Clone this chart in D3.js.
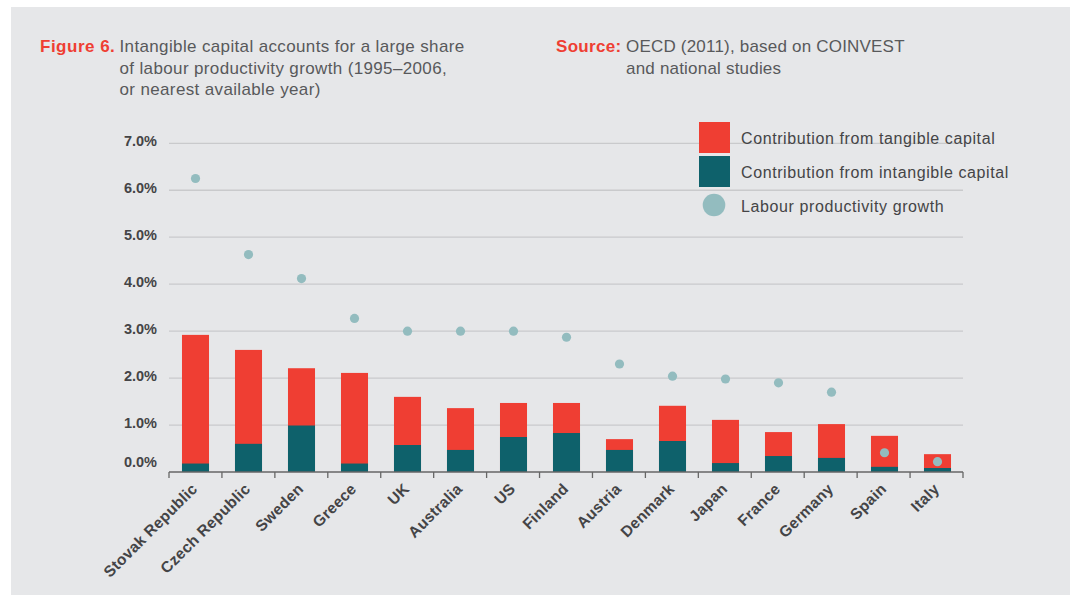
<!DOCTYPE html>
<html>
<head>
<meta charset="utf-8">
<script src="https://cdn.jsdelivr.net/npm/d3@7/dist/d3.min.js"></script>
<style>
  html, body { margin: 0; padding: 0; background: #ffffff; }
  svg { display: block; }
  text { font-family: "Liberation Sans", Arial, Helvetica, sans-serif; }
</style>
</head>
<body>
<svg id="chart" width="1074" height="595"></svg>
<script>
const countries = ["Stovak Republic", "Czech Republic", "Sweden", "Greece", "UK", "Australia", "US", "Finland", "Austria", "Denmark", "Japan", "France", "Germany", "Spain", "Italy"];
const intangible = [0.18, 0.60, 0.99, 0.18, 0.575, 0.47, 0.745, 0.83, 0.47, 0.66, 0.19, 0.34, 0.30, 0.11, 0.085];
const tangible = [2.74, 2.00, 1.22, 1.93, 1.025, 0.89, 0.725, 0.64, 0.23, 0.75, 0.92, 0.51, 0.72, 0.66, 0.295];
const productivity = [6.25, 4.63, 4.12, 3.27, 3.00, 3.00, 3.00, 2.87, 2.30, 2.04, 1.98, 1.90, 1.70, 0.41, 0.22];
const yTicks = [0, 1, 2, 3, 4, 5, 6, 7];
const legendLabels = ["Contribution from tangible capital", "Contribution from intangible capital", "Labour productivity growth"];

const RED = "#ef3e33", TEAL = "#0e616b", DOT = "#93bcbf", TXT = "#444446";

const svg = d3.select("#chart");
svg.append("rect").attr("x", 11).attr("y", 7).attr("width", 1059).attr("height", 588).attr("fill", "#e6e7e9");

const x = d3.scaleBand().domain(countries).range([169, 964]).paddingInner(0.49).paddingOuter(0.245);
const y = d3.scaleLinear().domain([0, 7]).range([472, 143.3]);

// gridlines
svg.append("g").selectAll("line").data(yTicks.filter(d => d > 0)).join("line")
  .attr("x1", 169).attr("x2", 963)
  .attr("y1", d => y(d)).attr("y2", d => y(d))
  .attr("stroke", "#c9cacc").attr("stroke-width", 1.3);

// y labels
svg.append("g").selectAll("text").data(yTicks).join("text")
  .attr("x", 157).attr("y", d => y(d) - (d === 0 ? 10 : 2.5))
  .attr("dy", "0.35em").attr("text-anchor", "end")
  .attr("font-size", 14.5).attr("font-weight", "bold").attr("fill", TXT)
  .text(d => d.toFixed(1) + "%");

// bars
const bars = svg.append("g");
countries.forEach((c, i) => {
  bars.append("rect").attr("x", x(c)).attr("width", x.bandwidth())
    .attr("y", y(intangible[i] + tangible[i])).attr("height", y(0) - y(intangible[i] + tangible[i]))
    .attr("fill", RED);
  bars.append("rect").attr("x", x(c)).attr("width", x.bandwidth())
    .attr("y", y(intangible[i])).attr("height", y(0) - y(intangible[i]))
    .attr("fill", TEAL);
});

// x axis
const xAxis = svg.append("g");
xAxis.append("line").attr("x1", 169).attr("x2", 963).attr("y1", 472).attr("y2", 472)
  .attr("stroke", "#666").attr("stroke-width", 1.5);
const tickXs = d3.range(countries.length + 1).map(i => 169 + i * (794 / countries.length));
xAxis.selectAll("line.tick").data(tickXs).join("line").attr("class", "tick")
  .attr("x1", d => d).attr("x2", d => d).attr("y1", 472).attr("y2", 478)
  .attr("stroke", "#666").attr("stroke-width", 1.3);
xAxis.selectAll("text").data(countries).join("text")
  .attr("transform", d => `translate(${x(d) + x.bandwidth() / 2 - 1},${486}) rotate(-45)`)
  .attr("text-anchor", "end").attr("dy", "0.35em")
  .attr("font-size", 15.5).attr("font-weight", "bold").attr("fill", TXT)
  .attr("letter-spacing", 0.3)
  .text(d => d);

// dots
svg.append("g").selectAll("circle").data(countries).join("circle")
  .attr("cx", d => x(d) + x.bandwidth() / 2)
  .attr("cy", (d, i) => y(productivity[i]))
  .attr("r", 4.6).attr("fill", DOT);

// legend
const lg = svg.append("g");
lg.append("rect").attr("x", 699).attr("y", 122).attr("width", 31).attr("height", 31).attr("fill", RED);
lg.append("rect").attr("x", 699).attr("y", 156).attr("width", 31).attr("height", 31).attr("fill", TEAL);
lg.append("circle").attr("cx", 714).attr("cy", 205).attr("r", 11.3).attr("fill", DOT);
[138, 172, 206.5].forEach((yy, i) => {
  lg.append("text").attr("x", 741).attr("y", yy).attr("dy", "0.35em")
    .attr("font-size", 16).attr("letter-spacing", 0.6).attr("fill", TXT).text(legendLabels[i]);
});

// title
const t = svg.append("g").attr("font-size", 17);
t.append("text").attr("x", 40).attr("y", 46.5).attr("dy", "0.35em").attr("font-weight", "bold").attr("fill", RED)
  .attr("letter-spacing", 0.5).text("Figure 6.");
const tl = ["Intangible capital accounts for a large share", "of labour productivity growth (1995\u20132006,", "or nearest available year)"];
tl.forEach((s, i) => t.append("text").attr("x", 119.5).attr("y", 46.5 + i * 21.2).attr("dy", "0.35em")
  .attr("letter-spacing", 0.36).attr("fill", "#58595b").text(s));
t.append("text").attr("x", 556).attr("y", 46.5).attr("dy", "0.35em").attr("font-weight", "bold").attr("fill", RED)
  .attr("letter-spacing", 0.3).text("Source:");
["OECD (2011), based on COINVEST", "and national studies"].forEach((s, i) =>
  t.append("text").attr("x", 626).attr("y", 46.5 + i * 21.2).attr("dy", "0.35em")
    .attr("letter-spacing", 0.2).attr("fill", "#58595b").text(s));
</script>
</body>
</html>
